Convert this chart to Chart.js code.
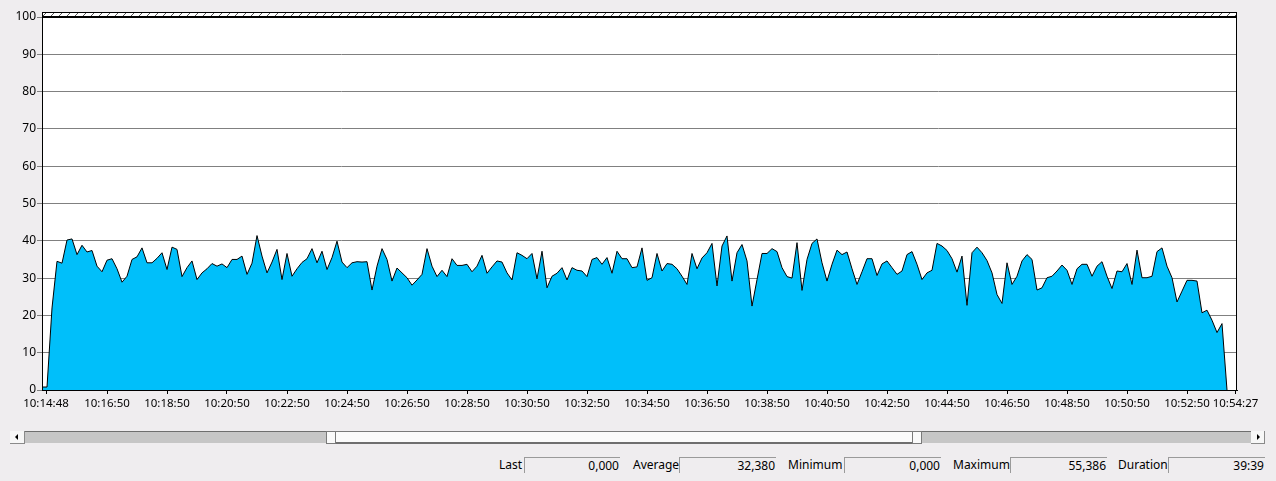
<!DOCTYPE html>
<html>
<head>
<meta charset="utf-8">
<script src="https://cdn.jsdelivr.net/npm/chart.js@4"></script>
<style>
  body { margin: 0; width: 1276px; height: 481px; background: #efedef; position: relative; overflow: hidden;
         font-family: "Noto Sans", "Open Sans", sans-serif; font-size: 12px; color: #000; }
  #wrap { position: absolute; left: 0; top: 0; width: 1276px; height: 410px; }
  .sb { position: absolute; box-sizing: border-box; }
  .lbl { position: absolute; top: 457px; line-height: 16px; }
  .box { position: absolute; top: 457px; height: 16px; box-sizing: border-box; border-top: 1px solid #9a9a9a;
         border-left: 1px solid #9a9a9a; text-align: right; line-height: 15px; padding-right: 1px; }
</style>
</head>
<body>
<div id="wrap"><canvas id="perfChart"></canvas></div>

<!-- scroll bar -->
<div class="sb" style="left:10px;top:431px;width:15px;height:13px;background:#f7f7f7;border-right:1px solid #8a8a8a;border-bottom:1px solid #8a8a8a;"></div>
<div class="sb" style="left:15px;top:434px;width:0;height:0;border-top:3px solid transparent;border-bottom:3px solid transparent;border-right:3px solid #000;"></div>
<div class="sb" style="left:25px;top:431px;width:301px;height:12px;background:#c6c6c6;border-top:1px solid #6e6e6e;"></div>
<div class="sb" style="left:326px;top:431px;width:10px;height:13px;background:#fafafa;border:1px solid #7a7a7a;"></div>
<div class="sb" style="left:336px;top:431px;width:576px;height:13px;background:#fbfbfb;border-top:1px solid #7a7a7a;border-bottom:2px solid #6e6e6e;"></div>
<div class="sb" style="left:912px;top:431px;width:10px;height:13px;background:#fafafa;border:1px solid #7a7a7a;"></div>
<div class="sb" style="left:922px;top:431px;width:329px;height:12px;background:#c6c6c6;border-top:1px solid #6e6e6e;"></div>
<div class="sb" style="left:1251px;top:431px;width:14px;height:13px;background:#f7f7f7;border-right:1px solid #8a8a8a;border-bottom:1px solid #8a8a8a;"></div>
<div class="sb" style="left:1257px;top:434px;width:0;height:0;border-top:3px solid transparent;border-bottom:3px solid transparent;border-left:3px solid #000;"></div>

<div id="stats"></div>

<script>
const startTime = '10:14:40';
const endTime = '10:54:30';
const sampleSec = 10;
const tickLabels = ['10:14:48', '10:16:50', '10:18:50', '10:20:50', '10:22:50', '10:24:50', '10:26:50',
  '10:28:50', '10:30:50', '10:32:50', '10:34:50', '10:36:50', '10:38:50', '10:40:50', '10:42:50',
  '10:44:50', '10:46:50', '10:48:50', '10:50:50', '10:52:50', '10:54:27'];
const values = [
  0.8, 0.8, 22, 34.5, 34, 40.2, 40.5, 36.3, 38.8, 37, 37.4, 33.2, 31.7, 34.8, 35.2, 32.5, 28.9, 30.5, 35, 35.7,
  38.1, 34.1, 34.1, 35.3, 36.8, 32.3, 38.3, 37.7, 30.4, 32.8, 34.6, 29.6, 31.4, 32.5, 33.9, 33.2, 33.8, 32.8, 35, 35,
  35.9, 31, 34, 41.4, 35.9, 31.4, 34.3, 37.7, 29.6, 36.6, 30.5, 32.5, 34.2, 35.2, 37.9, 34.1, 37.2, 32.3, 35.5, 39.9,
  34.3, 32.8, 34.1, 34.4, 34.3, 34.4, 26.8, 33.2, 37.9, 35, 29.2, 32.7, 31.4, 30.1, 28.1, 29.5, 31, 37.9, 33.2, 30.4,
  32.1, 30.4, 35.2, 33.4, 33.4, 33.7, 31.7, 33.2, 36.1, 31.3, 33, 34.6, 34.3, 31.4, 29.5, 36.8, 36.1, 35.2, 36.6, 29.8,
  37.2, 27.4, 30.5, 31.3, 32.8, 29.5, 32.8, 32.1, 31.9, 30.4, 35, 35.5, 33.7, 35.5, 31.3, 37.2, 35.2, 35.2, 32.8, 33,
  38.1, 29.4, 30.1, 36.6, 31.9, 33.9, 33.7, 32.5, 30.5, 28.3, 36.6, 32.5, 35.4, 36.8, 39.3, 27.9, 38.6, 41.3, 29.2, 36.8,
  39, 34.6, 22.5, 29.6, 36.6, 36.6, 37.9, 37.1, 32.8, 30.4, 30, 39.5, 26.7, 35, 39.3, 40.5, 34.1, 29.2, 33.7, 37.5,
  36.3, 37, 32.5, 28.3, 31.7, 35.2, 35.2, 30.7, 33.8, 34.6, 32.8, 31, 31.9, 36.3, 37.1, 33.7, 29.6, 31.4, 32.1, 39.3,
  38.6, 37.4, 35.2, 31.6, 35.9, 22.7, 36.8, 38.3, 36.8, 34.7, 31.4, 25.6, 23.2, 34.1, 28.3, 30.5, 34.6, 36.3, 35, 26.8,
  27.4, 30.1, 30.5, 31.9, 33.5, 32.1, 28.3, 32.5, 33.7, 33.7, 30.5, 33.2, 34.4, 30.5, 27.2, 31.9, 31.7, 33.9, 28.3, 37.5,
  30.1, 30.1, 30.5, 37.1, 38.1, 33.2, 30.1, 23.6, 26.5, 29.4, 29.4, 29.2, 20.7, 21.4, 18.7, 15.4, 17.8, 0
];
const statNames = ['Last', 'Average', 'Minimum', 'Maximum', 'Duration'];
const statValues = ['0,000', '32,380', '0,000', '55,386', '39:39'];

function toSec(t) {
  const p = t.split(':').map(Number);
  return p[0] * 3600 + p[1] * 60 + p[2];
}

// stats row
const statLayout = [[499, 524, 96], [633, 679, 97], [788, 844, 97], [953, 1010, 97], [1118, 1168, 97]];
const stats = document.getElementById('stats');
statNames.forEach((name, i) => {
  const [lx, bx, bw] = statLayout[i];
  stats.insertAdjacentHTML('beforeend',
    `<div class="lbl" style="left:${lx}px">${name}</div>` +
    `<div class="box" style="left:${bx}px;width:${bw}px">${statValues[i]}</div>`);
});

const t0 = toSec(startTime);
const points = values.map((v, i) => ({ x: t0 + i * sampleSec, y: v }));

const frame = {
  id: 'frame',
  beforeDraw(chart) {
    const a = chart.chartArea, c = chart.ctx;
    c.save();
    c.fillStyle = '#fff';
    c.fillRect(a.left, a.top, a.right - a.left, a.bottom - a.top);
    c.restore();
  },
  afterDraw(chart) {
    const a = chart.chartArea, c = chart.ctx;
    c.save();
    // hatched band above the top
    c.beginPath();
    c.rect(a.left, a.top - 4, a.right - a.left, 4);
    c.fillStyle = '#fff';
    c.fill();
    c.clip();
    c.strokeStyle = '#555';
    c.lineWidth = 1;
    for (let x = a.left - 8; x < a.right + 8; x += 8) {
      c.beginPath();
      c.moveTo(x, a.top);
      c.lineTo(x + 4, a.top - 4);
      c.stroke();
    }
    c.restore();
    c.save();
    c.strokeStyle = '#000';
    c.lineWidth = 1;
    c.strokeRect(a.left + 0.5, a.top - 4.5, a.right - a.left - 1, 4);
    c.strokeRect(a.left + 0.5, a.top + 0.5, a.right - a.left - 1, a.bottom - a.top);
    c.restore();
  }
};

const ctx = document.getElementById('perfChart').getContext('2d');
new Chart(ctx, {
  type: 'line',
  data: {
    datasets: [{
      data: points,
      borderColor: '#000',
      borderWidth: 1,
      backgroundColor: '#00bffa',
      fill: 'origin',
      pointRadius: 0,
      tension: 0
    }]
  },
  options: {
    responsive: true,
    maintainAspectRatio: false,
    animation: false,
    layout: { padding: { top: 17, right: 39, left: 0, bottom: 0 } },
    plugins: { legend: { display: false }, tooltip: { enabled: false } },
    scales: {
      x: {
        type: 'linear',
        min: t0,
        max: toSec(endTime),
        afterBuildTicks: scale => {
          scale.ticks = tickLabels.map(l => ({ value: Math.max(toSec(l), t0) }));
        },
        afterFit: scale => { scale.height = 20; },
        ticks: {
          autoSkip: false,
          maxRotation: 0,
          padding: 3,
          color: '#000',
          font: { family: 'Noto Sans', size: 11.5 },
          callback: (v, i) => tickLabels[i]
        },
        grid: { drawOnChartArea: false, tickLength: 4, color: '#000' },
        border: { color: '#000' }
      },
      y: {
        min: 0,
        max: 100,
        afterFit: scale => { scale.width = 42; },
        ticks: {
          stepSize: 10,
          padding: 1,
          color: '#000',
          font: { family: 'Noto Sans', size: 12 }
        },
        grid: { color: '#808080', tickLength: 5 },
        border: { color: '#000' }
      }
    }
  },
  plugins: [frame]
});
</script>
</body>
</html>
